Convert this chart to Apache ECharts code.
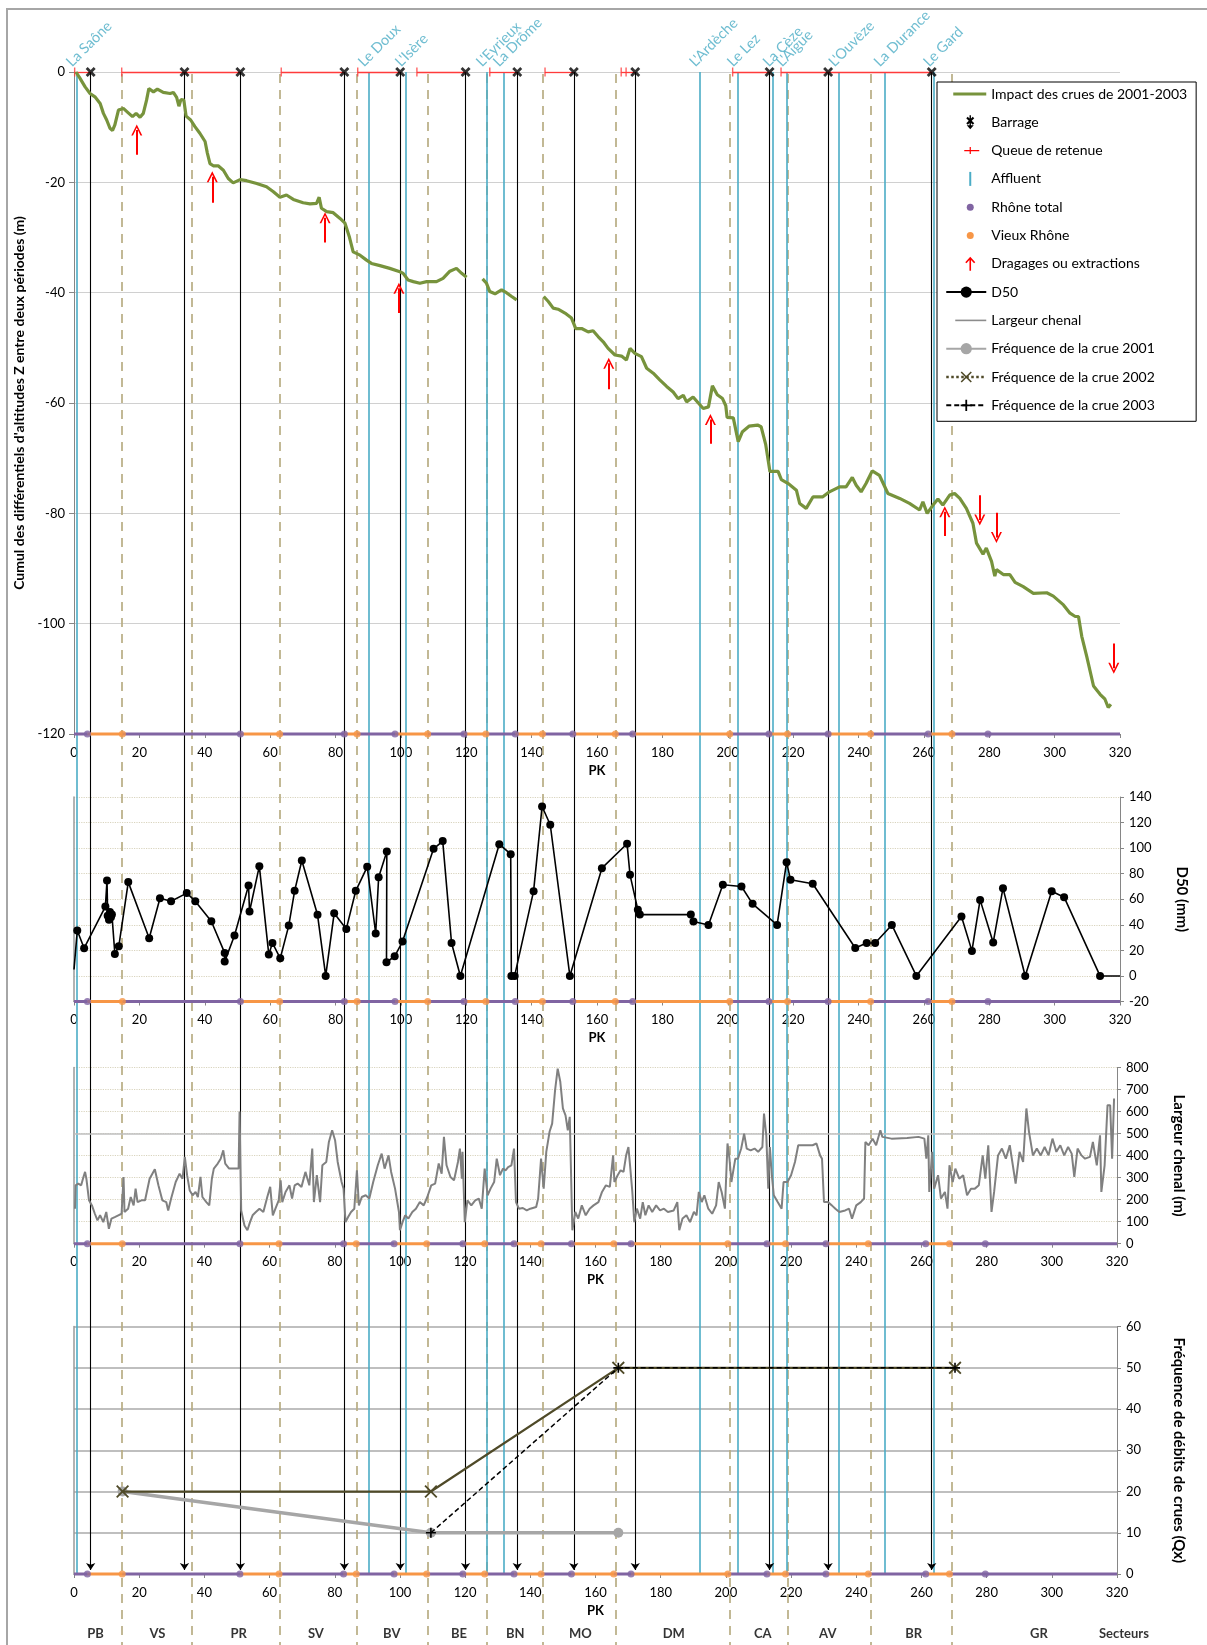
<!DOCTYPE html>
<html><head><meta charset="utf-8">
<script src="https://cdn.jsdelivr.net/npm/echarts@6/dist/echarts.min.js"></script>
<style>html,body{margin:0;padding:0;background:#fff}#c{width:1207px;height:1645px}</style>
</head><body><div id="c"></div><script>
// ---------------- DATA ----------------
const xTicksMax = 320;
// Impact des crues de 2001-2003 (PK km, cumul m); '-' = gap
const impact = [
[0.6,0],[0.8,-0.1],[1.8,-1.1],[3.4,-2.7],[4.9,-3.9],[6.4,-4.5],[8.0,-5.7],[9.0,-7.5],[10.0,-8.7],[11.0,-10.2],[11.8,-10.6],[12.5,-9.6],[13.6,-6.9],[15.1,-6.6],[16.6,-7.4],[17.9,-8.1],[19.0,-7.5],[20.2,-8.2],[21.2,-7.5],[22.2,-5.1],[22.9,-3.0],[24.3,-3.6],[25.5,-3.1],[27.3,-3.7],[29.4,-3.9],[30.4,-3.7],[31.4,-4.6],[32.1,-6.2],[32.7,-5.0],[33.6,-5.1],[34.3,-8.0],[35.7,-8.7],[37.0,-9.9],[38.5,-11.1],[40.1,-12.6],[40.8,-14.7],[41.6,-16.6],[42.6,-17.0],[44.1,-17.0],[45.7,-17.8],[47.2,-19.3],[48.7,-20.1],[50.8,-19.5],[52.8,-19.7],[55.9,-20.2],[58.9,-20.8],[61.0,-21.7],[63.0,-22.7],[65.0,-22.3],[67.1,-23.1],[70.1,-23.7],[72.2,-23.9],[74.2,-23.8],[75.0,-22.7],[75.7,-24.7],[77.3,-25.3],[79.3,-25.5],[81.3,-26.5],[82.9,-27.4],[84.2,-29.8],[85.4,-32.6],[87.5,-33.2],[89.5,-34.1],[91.0,-34.7],[93.6,-35.1],[96.6,-35.6],[99.7,-36.2],[100.7,-36.5],[102.2,-37.7],[103.8,-38.0],[105.8,-38.3],[107.9,-38.0],[110.9,-38.0],[112.9,-37.4],[115.0,-36.1],[117.0,-35.6],[118.6,-36.5],[120.1,-37.2],
[122,'-'],
[125.0,-37.5],[126.2,-38.3],[127.2,-39.8],[128.8,-40.2],[130.8,-39.5],[132.3,-40.0],[133.9,-40.7],[135.4,-41.3],
[140,'-'],
[143.7,-40.7],[145.1,-41.6],[146.6,-42.8],[148.1,-43.0],[150.2,-43.7],[152.2,-44.6],[153.5,-46.5],[155.3,-46.5],[157.3,-47.1],[158.8,-46.9],[160.4,-48.0],[161.9,-48.9],[163.4,-50.1],[165.5,-51.3],[167.5,-51.5],[169.0,-52.2],[170.1,-50.1],[171.6,-51.0],[173.6,-51.6],[175.2,-53.7],[177.2,-54.6],[179.2,-55.8],[181.3,-57.0],[183.3,-58.0],[184.8,-59.2],[186.4,-58.6],[187.4,-59.8],[189.4,-58.9],[191.0,-60.0],[192.5,-61.0],[194.1,-60.7],[195.3,-56.9],[196.8,-58.5],[198.4,-59.2],[199.4,-60.5],[199.8,-62.6],[201.7,-62.7],[203.2,-67.0],[204.5,-65.2],[206.5,-64.2],[209.1,-64.0],[210.2,-64.3],[211.6,-67.5],[212.9,-72.4],[215.4,-72.4],[216.4,-73.9],[218.5,-74.6],[221.0,-75.8],[222.0,-78.2],[224.0,-79.1],[226.1,-77.0],[229.1,-77.0],[231.1,-76.1],[234.2,-75.2],[236.2,-75.2],[238.1,-73.5],[239.3,-74.9],[240.8,-76.1],[242.3,-74.6],[244.2,-72.3],[246.4,-73.1],[249.0,-76.4],[252.6,-77.3],[255.6,-78.2],[258.7,-79.4],[259.7,-77.9],[261.0,-80.0],[262.8,-78.5],[264.3,-77.4],[265.8,-78.5],[267.9,-76.7],[269.4,-76.4],[271.0,-77.3],[273.0,-79.1],[275.0,-81.8],[276.1,-85.4],[278.1,-87.4],[279.1,-86.3],[280.7,-88.7],[281.7,-91.4],[282.2,-90.2],[284.3,-91.1],[286.3,-91.1],[287.9,-92.5],[290.4,-93.3],[293.5,-94.5],[297.6,-94.4],[299.6,-95.0],[302.7,-96.6],[304.7,-98.1],[306.3,-98.7],[307.3,-98.7],[308.3,-102.3],[309.8,-105.9],[311.9,-111.3],[313.9,-112.8],[315.4,-113.7],[316.4,-115.2],[317.2,-114.6]
];
// Barrages (PK km)
const barrageKm = [5.1,33.8,50.9,82.7,99.8,119.8,135.6,152.9,171.7,212.8,230.7,262.4];
// Queues de retenue (segments PK start..end, and start ticks)
const queueSegs = [[0.2,5.1],[14.6,33.8],[33.8,50.9],[63.4,82.7],[86.8,99.8],[104.9,119.8],[127.2,135.6],[144.1,152.9],[167.4,171.7],[201.5,212.8],[216.3,230.7],[230.7,262.4]];
const queueTicks = [0.2,14.6,63.4,86.8,104.9,127.2,144.1,167.4,168.9,201.5,216.3];
// Affluents
const affluentKm = [0.8,90.1,101.4,126.2,131.4,191.4,203,213.9,218,234,247.9,263];
const affluentNames = ['La Saône','Le Doux',"L'Isère","L'Eyrieux",'La Drôme',"L'Ardèche",'Le Lez','La Cèze',"L'Aigue","L'Ouvèze",'La Durance','Le Gard'];
// Sector boundaries, names and label positions
const sectorBounds = [14.6,35.9,62.9,86.6,108.2,126.2,143.3,165.6,200.6,218.3,243.7,268.6];
const sectorNames = ['PB','VS','PR','SV','BV','BE','BN','MO','DM','CA','AV','BR','GR','Secteurs'];
const sectorPos = [6.6,25.5,50.4,74,97.2,117.8,135,154.9,183.5,210.7,230.6,256.9,295.2,321.2];
// Rhône total / Vieux Rhône
const rhoneSegs = [[0,4.1],[14.8,50.9],[62.9,82.7],[86.6,98.2],[108.2,119.3],[126,135],[143.3,152.6],[165.6,170.9],[200.6,212.6],[218.3,230.7],[243.7,261.3],[268.6,320]];
const rhoneDots = [4.1,50.9,82.7,98.2,119.3,135,152.6,170.9,212.6,230.7,261.3,279.6];
const vieuxSegs = [[4.1,14.8],[50.9,62.9],[82.7,86.6],[98.2,108.2],[119.3,126],[135,143.3],[152.6,165.6],[170.9,200.6],[212.6,218.3],[230.7,243.7],[261.3,268.6]];
const vieuxDots = [14.8,62.9,86.6,108.2,126,143.3,165.6,200.6,218.3,243.7,268.6];
// Dragages ou extractions: [PK, from, to]
const dredging = [[19.2,-15.0,-10.5],[42.3,-23.7,-19.0],[76.8,-30.9,-26.4],[99.4,-43.7,-39.2],[163.6,-57.5,-52.8],[194.7,-67.4,-63.0],[266.4,-84.1,-79.7],[277.1,-76.7,-81.2],[282.2,-79.9,-84.4],[318.1,-103.6,-108.1]];
// D50 (mm)
const d50 = [[0,5],[1.0,35.5],[3.1,21.7],[9.6,54.3],[10.1,74.7],[10.3,47],[10.7,44],[11.0,50],[11.3,46],[11.6,48],[12.5,17.2],[13.7,23.2],[16.6,73.4],[23.0,29.5],[26.3,60.8],[29.7,58.5],[34.5,64.8],[37.1,58.5],[42.0,42.8],[46.1,18.0],[46.1,11.2],[49.1,31.6],[53.4,70.8],[53.7,50.4],[56.7,85.9],[59.6,16.7],[60.7,25.8],[63.1,13.8],[65.7,39.4],[67.5,66.6],[69.7,90.3],[74.5,47.8],[77.0,0],[79.6,49.1],[83.3,36.8],[86.2,66.6],[89.7,85.4],[92.3,33.2],[93.2,77.3],[95.7,97.4],[95.6,10.7],[98.1,15.4],[100.5,26.9],[110.0,99.5],[112.8,105.5],[115.5,25.8],[118.2,0],[130.1,103.1],[133.6,95.3],[133.8,0],[134.8,0],[140.6,66.3],[143.2,132.6],[145.7,118.3],[151.7,0],[161.5,84.3],[169.2,103.4],[170.1,79.1],[172.5,51.7],[173.1,48.0],[188.7,48.0],[189.5,42.6],[194.1,39.9],[198.5,71.3],[204.2,70.0],[207.6,56.4],[215.1,39.9],[218.0,89.0],[219.2,75.2],[226.0,72.1],[239.0,21.9],[242.5,25.8],[245.1,25.8],[250.2,39.9],[257.7,0],[271.5,46.5],[274.7,19.6],[277.2,59.5],[281.2,26.1],[284.2,68.7],[291.0,0],[299.1,66.3],[302.9,61.6],[313.9,0],[320,0]];
// Largeur chenal (m)
const largeur = [[0.3,159],[0.5,265],[1.3,273],[2.2,265],[2.9,303],[3.4,326],[3.8,295],[4.3,303],[4.6,197],[5.5,174],[6.4,136],[7.2,106],[8.0,129],[9.0,98],[9.9,144],[10.7,68],[11.5,114],[12.5,121],[13.6,129],[14.6,136],[15.2,303],[15.5,144],[16.6,159],[17.4,212],[18.3,174],[18.9,250],[19.5,189],[20.7,197],[21.8,197],[23.2,295],[24.8,338],[25.9,265],[27.1,197],[28.3,189],[28.9,151],[29.8,205],[31.2,280],[32.4,318],[33.3,295],[34.0,394],[34.7,311],[35.5,242],[36.4,220],[37.3,235],[38.0,212],[38.8,303],[39.4,212],[40.6,189],[41.5,174],[42.3,295],[42.9,341],[44.1,364],[45.0,386],[45.8,424],[46.4,364],[47.6,341],[49.3,341],[50.5,341],[50.8,600],[51.3,151],[52.3,83],[53.2,61],[54.0,98],[54.8,129],[55.8,144],[56.9,159],[58.1,144],[59.3,212],[60.2,258],[61.0,129],[61.8,159],[62.8,197],[63.4,288],[63.9,189],[64.9,235],[66.1,265],[66.9,205],[67.7,265],[68.6,273],[69.8,258],[71.0,326],[72.2,265],[73.1,432],[73.6,189],[74.5,311],[75.5,189],[76.2,356],[77.4,371],[78.2,462],[79.2,515],[80.1,470],[80.9,371],[82.1,280],[82.7,250],[83.3,98],[84.1,121],[85.0,144],[86.0,159],[86.8,333],[87.4,174],[88.3,212],[89.5,220],[90.6,205],[91.8,280],[93.2,356],[94.4,409],[95.3,341],[96.5,401],[97.3,326],[98.5,250],[99.7,144],[100.0,61],[100.8,98],[101.6,129],[102.6,114],[103.8,144],[104.9,159],[106.1,189],[107.3,174],[108.4,212],[109.6,265],[110.8,273],[111.9,364],[112.8,318],[113.5,485],[114.3,356],[115.5,303],[116.6,288],[117.8,371],[118.4,432],[119.0,295],[119.2,417],[119.9,98],[120.7,197],[121.9,174],[123.1,197],[124.2,205],[125.1,159],[126.0,341],[126.9,220],[127.8,250],[128.9,280],[129.7,386],[130.7,311],[131.6,341],[132.4,333],[133.2,348],[134.2,356],[135.0,432],[135.6,189],[136.5,159],[137.7,162],[138.9,151],[140.0,159],[141.8,167],[142.4,205],[143.3,386],[144.1,250],[144.9,417],[145.9,508],[146.7,545],[147.6,697],[148.4,795],[149.2,735],[150.0,614],[150.8,583],[151.5,515],[152.1,576],[152.6,568],[152.9,61],[153.8,144],[154.7,114],[155.8,174],[157.0,129],[158.2,159],[159.4,174],[160.9,189],[162.0,235],[163.2,265],[164.4,258],[165.4,401],[165.8,280],[166.8,311],[167.7,333],[168.6,326],[169.4,401],[170.1,439],[170.6,356],[171.3,235],[171.9,98],[172.7,159],[173.7,114],[174.5,189],[175.3,129],[176.3,174],[177.4,144],[178.6,174],[179.8,151],[181.0,159],[182.2,144],[184.0,151],[185.1,189],[185.7,61],[186.7,114],[187.9,129],[189.0,98],[190.2,144],[191.0,129],[191.7,235],[192.6,189],[193.4,220],[194.6,159],[195.8,136],[197.0,174],[197.8,280],[198.7,235],[199.7,159],[200.5,455],[201.1,386],[201.7,280],[202.9,386],[203.7,386],[204.7,432],[205.6,500],[206.4,432],[207.6,424],[208.8,432],[209.9,417],[211.2,439],[211.7,591],[212.4,492],[213.0,250],[213.5,439],[214.1,311],[214.7,220],[215.9,189],[217.1,159],[217.7,280],[218.9,280],[220.0,311],[221.2,371],[222.2,447],[224.2,447],[226.6,447],[227.8,455],[228.9,401],[229.5,386],[230.1,189],[231.3,189],[232.5,174],[233.6,159],[234.8,144],[236.6,151],[237.8,159],[238.7,114],[240.0,174],[241.4,189],[242.4,205],[242.8,462],[243.8,447],[245.0,477],[246.1,447],[247.4,515],[248.0,485],[250.8,477],[255.6,480],[259.1,485],[260.9,477],[261.5,386],[262.1,492],[262.4,235],[263.3,417],[263.9,250],[265.1,311],[266.0,205],[267.2,235],[268.0,159],[268.6,356],[269.6,280],[270.4,341],[271.6,295],[272.8,311],[274.0,220],[275.2,250],[276.4,250],[277.6,265],[278.8,401],[279.6,295],[280.5,447],[281.5,144],[282.3,235],[283.5,401],[284.7,432],[285.9,386],[287.1,447],[288.9,273],[290.1,417],[291.2,371],[292.2,614],[293.0,508],[294.2,401],[295.4,432],[296.6,401],[297.8,439],[299.0,401],[300.2,477],[301.4,417],[302.6,447],[303.8,401],[305.0,439],[306.1,409],[306.9,303],[307.9,432],[309.1,401],[310.2,386],[311.7,394],[312.6,462],[313.8,356],[314.8,492],[315.2,235],[316.2,356],[317.1,629],[317.9,629],[318.5,386],[319.1,659]];
// Fréquences de crues (Qx)
const freq2001 = [[14.9,20],[109.5,10],[167,10]];
const freq2002 = [[14.9,20],[109.5,20],[167,50],[270.3,50]];
const freq2003 = [[109.5,10],[167,50],[270.3,50]];

// ---------------- LAYOUT / STYLE ----------------
const FONT = 'Lato, "Open Sans", sans-serif';
const OV_LINE_TOP = 72, OV_BLACK_BOT = 1570, OV_BLUE_BOT = 1574, OV_DASH_TOP = 74, OV_DASH_BOT = 1645;
const TRIB_Y = 70, SECTOR_Y = 1634;
const C = {green:'#77933C', purple:'#8064A2', orange:'#F79646', blue:'#4BACC6', red:'#FF0000', tan:'#B8AD83'};
const X_SYM = 'path://M0 2L2 0L5 3L8 0L10 2L7 5L10 8L8 10L5 7L2 10L0 8L3 5Z';
const X_THIN = 'path://M0 1L1 0L5 4L9 0L10 1L6 5L10 9L9 10L5 6L1 10L0 9L4 5Z';
const PLUS = 'path://M4.2 0L5.8 0L5.8 4.2L10 4.2L10 5.8L5.8 5.8L5.8 10L4.2 10L4.2 5.8L0 5.8L0 4.2L4.2 4.2Z';
const CHEV = 'path://M0 9L5 0L10 9L8.4 9L5 2.8L1.6 9Z';
const TICK = 'path://M0 0L1 0L1 10L0 10Z';
const INVISIBLE = 'rgba(0,0,0,0)';

const tickLabel = {fontFamily: FONT, fontSize: 13, color: '#000'};
const boldName = {fontFamily: FONT, fontSize: 13, fontWeight: 'bold', color: '#000'};
const boldTitleRight = {fontFamily: FONT, fontSize: 15, fontWeight: 'bold', color: '#000'};

function mkX(gi) {
  return {gridIndex: gi, type: 'value', min: 0, max: xTicksMax, interval: 20,
    axisLine: {show: true, onZero: false, lineStyle: {color: '#868686'}},
    axisTick: {show: true, length: 4, lineStyle: {color: '#868686'}},
    axisLabel: Object.assign({margin: 12}, tickLabel), splitLine: {show: false},
    name: 'PK', nameLocation: 'middle', nameGap: 30, nameTextStyle: boldName};
}
function mkYRight(gi, min, max, interval, name, split) {
  return {gridIndex: gi, type: 'value', position: 'right', min, max, interval,
    axisLine: {show: true, onZero: false, lineStyle: {color: '#868686'}},
    axisTick: {show: true, length: 4, lineStyle: {color: '#868686'}},
    axisLabel: Object.assign({margin: 9}, tickLabel), splitLine: split,
    name, nameLocation: 'middle', nameRotate: -90, nameGap: 54, nameTextStyle: boldTitleRight};
}
function mkYLeftLine(gi, min, max) {
  return {gridIndex: gi, type: 'value', position: 'left', min, max,
    axisLine: {show: true, onZero: false, lineStyle: {color: '#9A9A9A', width: 1.5}},
    axisTick: {show: false}, axisLabel: {show: false}, splitLine: {show: false}};
}
const segLine = (segs, y) => segs.flatMap(([a, b]) => [[a, y], [b, y], [b, '-']]);
function baseline(xi, yi, yv) {
  return [
    {type: 'line', name: 'Rhône total', xAxisIndex: xi, yAxisIndex: yi, data: segLine(rhoneSegs, yv), symbol: 'none',
      lineStyle: {color: C.purple, width: 3}, itemStyle: {color: C.purple}, z: 4, clip: false, silent: true},
    {type: 'line', name: 'Vieux Rhône', xAxisIndex: xi, yAxisIndex: yi, data: segLine(vieuxSegs, yv), symbol: 'none',
      lineStyle: {color: C.orange, width: 3}, itemStyle: {color: C.orange}, z: 4, clip: false, silent: true},
    {type: 'scatter', name: 'Rhône total', xAxisIndex: xi, yAxisIndex: yi, data: rhoneDots.map(k => [k, yv]),
      symbolSize: 7, itemStyle: {color: C.purple}, z: 5, clip: false, silent: true},
    {type: 'scatter', name: 'Vieux Rhône', xAxisIndex: xi, yAxisIndex: yi, data: vieuxDots.map(k => [k, yv]),
      symbolSize: 7, itemStyle: {color: C.orange}, z: 5, clip: false, silent: true}
  ];
}

const BOX = 'M0 0M40 14';
const legendData = [
  {name: 'Impact des crues de 2001-2003', icon: 'path://' + BOX + 'M7 5.5L40 5.5L40 8.5L7 8.5Z', itemStyle: {color: C.green, borderWidth: 0}},
  {name: 'Barrage', icon: 'path://' + BOX + 'M23.3 0L24.7 0L24.7 10L27.5 10L24 14L20.5 10L23.3 10Z M20 3L21.5 1.5L24 4L26.5 1.5L28 3L25.5 5.5L28 8L26.5 9.5L24 7L21.5 9.5L20 8L22.5 5.5Z', itemStyle: {color: '#000', borderWidth: 0}},
  {name: 'Queue de retenue', icon: 'path://' + BOX + 'M18 6.4L33 6.4L33 7.6L18 7.6Z M23.4 3.5L24.6 3.5L24.6 10.5L23.4 10.5Z', itemStyle: {color: C.red, borderWidth: 0}},
  {name: 'Affluent', icon: 'path://' + BOX + 'M23 0L25 0L25 14L23 14Z', itemStyle: {color: C.blue, borderWidth: 0}},
  {name: 'Rhône total', icon: 'path://' + BOX + 'M24 3.5A3.5 3.5 0 1 1 24 10.5A3.5 3.5 0 1 1 24 3.5Z', itemStyle: {color: C.purple, borderWidth: 0}},
  {name: 'Vieux Rhône', icon: 'path://' + BOX + 'M24 3.5A3.5 3.5 0 1 1 24 10.5A3.5 3.5 0 1 1 24 3.5Z', itemStyle: {color: C.orange, borderWidth: 0}},
  {name: 'Dragages ou extractions', icon: 'path://' + BOX + 'M24 0L29 5.5L27.8 6.5L24.8 3.2L24.8 14L23.2 14L23.2 3.2L20.2 6.5L19 5.5Z', itemStyle: {color: C.red, borderWidth: 0}},
  {name: 'D50'},
  {name: 'Largeur chenal', icon: 'path://' + BOX + 'M9 6.2L40 6.2L40 7.8L9 7.8Z', itemStyle: {color: '#8C8C8C', borderWidth: 0}},
  {name: 'Fréquence de la crue 2001'},
  {name: 'Fréquence de la crue 2002', lineStyle: {type: 'dotted', width: 2.5}},
  {name: 'Fréquence de la crue 2003', lineStyle: {type: [5, 3]}}
];

const option = {
  animation: false,
  backgroundColor: '#fff',
  textStyle: {fontFamily: FONT},
  graphic: [{type: 'rect', shape: {x: 7, y: 9, width: 1300, height: 1700}, style: {fill: 'none', stroke: '#A6A6A6', lineWidth: 2}, silent: true, z: -10}],
  legend: {orient: 'vertical', left: 937, top: 82, itemWidth: 40, itemHeight: 14, itemGap: 14.3,
    padding: [5, 9, 9, 8], backgroundColor: '#fff', borderColor: '#000', borderWidth: 1, selectedMode: false,
    textStyle: {fontFamily: FONT, fontSize: 14, color: '#000'}, data: legendData},
  grid: [
    {left: 74, right: 87, top: 72, height: 662, outerBoundsMode: 'none'},
    {left: 74, right: 87, top: 797, height: 204.5, outerBoundsMode: 'none'},
    {left: 74, right: 90, top: 1067.5, height: 176.2, outerBoundsMode: 'none'},
    {left: 74, right: 90, top: 1326.6, height: 247.4, outerBoundsMode: 'none'},
    {left: 74, right: 87, top: 0, height: 1645, outerBoundsMode: 'none'}
  ],
  xAxis: [mkX(0), mkX(1), mkX(2), mkX(3),
    {gridIndex: 4, type: 'value', min: 0, max: xTicksMax, show: false}],
  yAxis: [
    {gridIndex: 0, type: 'value', position: 'left', min: -120, max: 0, interval: 20,
      axisLine: {show: true, onZero: false, lineStyle: {color: '#868686'}},
      axisTick: {show: true, length: 5, lineStyle: {color: '#868686'}},
      axisLabel: Object.assign({margin: 9}, tickLabel),
      splitLine: {lineStyle: {color: '#D0D0D0', width: 1.2}},
      name: "Cumul des différentiels d'altitudes Z entre deux périodes (m)", nameLocation: 'middle', nameGap: 45,
      nameTextStyle: {fontFamily: FONT, fontSize: 14, fontWeight: 'bold', color: '#000'}},
    mkYRight(1, -20, 140, 20, 'D50 (mm)', {lineStyle: {color: '#D9D4BE', type: 'dotted', width: 1.2}}),
    mkYRight(2, 0, 800, 100, 'Largeur chenal (m)', {lineStyle: {color: '#D9D4BE', type: 'dotted', width: 1.2}}),
    mkYRight(3, 0, 60, 10, 'Fréquence de débits de crues (Qx)', {lineStyle: {color: '#BFBFBF', width: 2}}),
    {gridIndex: 4, type: 'value', min: 0, max: 1645, inverse: true, show: false},
    mkYLeftLine(1, -20, 140), mkYLeftLine(2, 0, 800), mkYLeftLine(3, 0, 60)
  ],
  series: [
    // overlay vertical lines
    {type: 'lines', coordinateSystem: 'cartesian2d', xAxisIndex: 4, yAxisIndex: 4, silent: true, z: 1,
      data: sectorBounds.map(k => ({coords: [[k, OV_DASH_TOP], [k, OV_DASH_BOT]]})),
      lineStyle: {color: C.tan, width: 1.7, type: [9, 7], opacity: 1}},
    {type: 'lines', name: 'Affluent', coordinateSystem: 'cartesian2d', xAxisIndex: 4, yAxisIndex: 4, silent: true, z: 1,
      data: affluentKm.map(k => ({coords: [[k, OV_LINE_TOP], [k, OV_BLUE_BOT]]})),
      lineStyle: {color: C.blue, width: 1.6, opacity: 1}},
    {type: 'lines', name: 'Barrage', coordinateSystem: 'cartesian2d', xAxisIndex: 4, yAxisIndex: 4, silent: true, z: 1,
      symbol: ['none', 'arrow'], symbolSize: 7,
      data: barrageKm.map(k => ({coords: [[k, OV_LINE_TOP], [k, OV_BLACK_BOT]]})),
      lineStyle: {color: '#000', width: 1.1, opacity: 1}},
    // tributary names
    {type: 'scatter', xAxisIndex: 4, yAxisIndex: 4, silent: true, clip: false, symbolSize: 1, itemStyle: {color: INVISIBLE},
      data: affluentKm.map((k, i) => ({value: [k, TRIB_Y], name: affluentNames[i]})), z: 9,
      label: {show: true, formatter: p => p.name, position: [-2, 0], rotate: 45, align: 'left', verticalAlign: 'bottom',
        color: C.blue, fontSize: 14.5, fontFamily: FONT}},
    // sector labels
    {type: 'scatter', xAxisIndex: 4, yAxisIndex: 4, silent: true, clip: false, symbolSize: 1, itemStyle: {color: INVISIBLE},
      data: sectorPos.map((k, i) => ({value: [k, SECTOR_Y], name: sectorNames[i]})), z: 9,
      label: {show: true, formatter: p => p.name, position: 'inside', color: '#000', fontSize: 13, fontWeight: 'bold', fontFamily: FONT}},
    // panel 1
    {type: 'line', name: 'Impact des crues de 2001-2003', xAxisIndex: 0, yAxisIndex: 0, data: impact, symbol: 'none',
      lineStyle: {color: C.green, width: 3.2}, itemStyle: {color: C.green}, z: 6},
    {type: 'lines', name: 'Queue de retenue', coordinateSystem: 'cartesian2d', xAxisIndex: 0, yAxisIndex: 0, silent: true, z: 3, clip: false,
      data: queueSegs.map(([a, b]) => ({coords: [[a, 0], [b, 0]]})), lineStyle: {color: '#FF3B3B', width: 1.3, opacity: 1}},
    {type: 'scatter', name: 'Queue de retenue', xAxisIndex: 0, yAxisIndex: 0, data: queueTicks.map(k => [k, 0]),
      symbol: TICK, symbolSize: [1.4, 9], itemStyle: {color: '#FF3B3B'}, z: 3, clip: false, silent: true},
    {type: 'scatter', name: 'Barrage', xAxisIndex: 0, yAxisIndex: 0, data: barrageKm.map(k => [k, 0]),
      symbol: X_SYM, symbolSize: 10, itemStyle: {color: '#000'}, z: 7, clip: false, silent: true},
    {type: 'lines', name: 'Dragages ou extractions', coordinateSystem: 'cartesian2d', xAxisIndex: 0, yAxisIndex: 0, silent: true, z: 7, clip: false,
      symbol: ['none', CHEV], symbolSize: 11,
      data: dredging.map(([k, a, b]) => ({coords: [[k, a], [k, b]]})), lineStyle: {color: C.red, width: 2, opacity: 1}},
    ...baseline(0, 0, -120),
    // panel 2
    {type: 'line', name: 'D50', xAxisIndex: 1, yAxisIndex: 1,
      data: d50.map((p, i) => (i === 0 || i === d50.length - 1) ? {value: p, symbol: 'none'} : p),
      symbol: 'circle', symbolSize: 8, lineStyle: {color: '#000', width: 1.6}, itemStyle: {color: '#000'}, z: 6},
    ...baseline(1, 1, -20),
    // panel 3
    {type: 'line', name: 'Largeur chenal', xAxisIndex: 2, yAxisIndex: 2, data: largeur, symbol: 'none',
      lineStyle: {color: '#808080', width: 2}, itemStyle: {color: '#808080'}, z: 6,
      markLine: {silent: true, symbol: 'none', label: {show: false}, lineStyle: {color: '#BFBFBF', type: 'solid', width: 1.5}, data: [{yAxis: 500}]}},
    ...baseline(2, 2, 0),
    // panel 4
    {type: 'line', name: 'Fréquence de la crue 2001', xAxisIndex: 3, yAxisIndex: 3, data: freq2001,
      symbol: 'circle', symbolSize: 10, lineStyle: {color: '#A6A6A6', width: 3.5}, itemStyle: {color: '#A6A6A6'}, z: 6},
    {type: 'line', name: 'Fréquence de la crue 2002', xAxisIndex: 3, yAxisIndex: 3, data: freq2002,
      symbol: X_THIN, symbolSize: 13, lineStyle: {color: '#4F4A28', width: 2.2}, itemStyle: {color: '#4F4A28'}, z: 7},
    {type: 'line', name: 'Fréquence de la crue 2003', xAxisIndex: 3, yAxisIndex: 3, data: freq2003,
      symbol: PLUS, symbolSize: 10, lineStyle: {color: '#000', width: 1.5, type: [5, 3]}, itemStyle: {color: '#000'}, z: 8},
    ...baseline(3, 3, 0)
  ]
};
const chart = echarts.init(document.getElementById('c'), null, {renderer: 'canvas'});
chart.setOption(option);
</script></body></html>
